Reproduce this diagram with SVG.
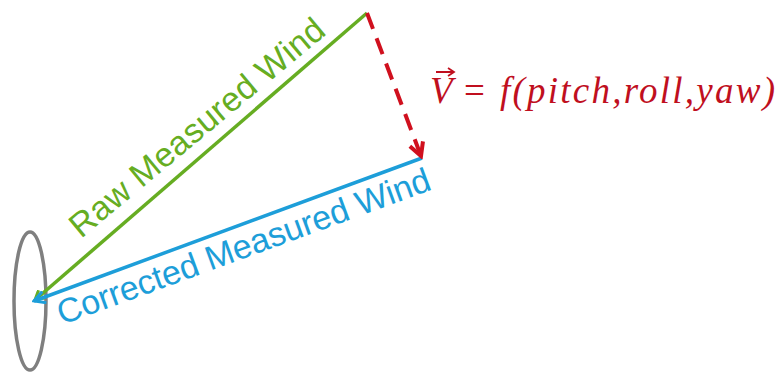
<svg xmlns="http://www.w3.org/2000/svg" width="779" height="372" viewBox="0 0 779 372">
<style>
.lbl{font-family:"Liberation Sans",Arial,sans-serif;font-size:34px}
.green{fill:#66ad22}
.blue{fill:#1d9ed9}
.formula{font-family:"Liberation Serif","Times New Roman",serif;font-size:37px;fill:#c00f1e}
.it{font-style:italic}
</style>
<defs>
<marker id="ag" markerWidth="12" markerHeight="12" refX="10" refY="6" orient="auto" markerUnits="userSpaceOnUse"><path d="M1,1 L10,6 L1,11" fill="none" stroke="#66ad22" stroke-width="3"/></marker>
<marker id="ab" markerWidth="14" markerHeight="14" refX="12" refY="7" orient="auto" markerUnits="userSpaceOnUse"><path d="M1,1 L12,7 L1,13" fill="none" stroke="#1d9ed9" stroke-width="3"/></marker>
<marker id="ar" markerWidth="18" markerHeight="18" refX="15" refY="9" orient="auto" markerUnits="userSpaceOnUse"><path d="M2,2 L15,9 L2,16" fill="none" stroke="#d0101e" stroke-width="4"/></marker>
</defs>
<g id="sensor"><ellipse cx="30" cy="301" rx="16" ry="69" fill="none" stroke="#7f7f7f" stroke-width="3.5"/></g>
<g id="connectors">
<line x1="367" y1="13" x2="35" y2="300" stroke="#66ad22" stroke-width="3.5" marker-end="url(#ag)"/>
<line x1="422" y1="158" x2="34" y2="301" stroke="#1d9ed9" stroke-width="3.5" marker-end="url(#ab)"/>
<line x1="367" y1="13" x2="421" y2="156" stroke="#d0101e" stroke-width="4" stroke-dasharray="17,10" marker-end="url(#ar)"/>
</g>
<g id="raw-label"><text class="lbl green" transform="translate(81,239) rotate(-39.8)" textLength="321" lengthAdjust="spacing">Raw Measured Wind</text></g>
<g id="corrected-label"><text class="lbl blue" transform="translate(62,325) rotate(-20.1)" textLength="395" lengthAdjust="spacing">Corrected Measured Wind</text></g>
<g id="formula">
<text class="formula it" x="430" y="103">V</text>
<path d="M436,72 H453 M448,68 L454,72 L448,76" fill="none" stroke="#c00f1e" stroke-width="1.8"/>
<text class="formula" x="464" y="103">=</text>
<text class="formula it" x="500" y="103" textLength="275" lengthAdjust="spacing">f(pitch,roll,yaw)</text>
</g>
</svg>
